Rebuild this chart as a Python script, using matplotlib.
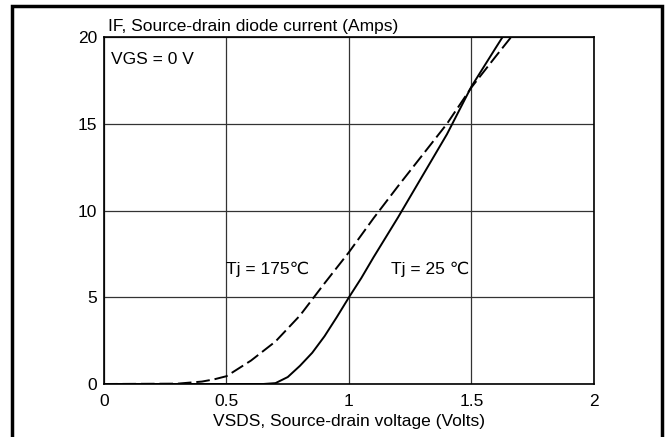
import matplotlib.pyplot as plt
from matplotlib.patches import Rectangle

plt.rcParams["font.family"] = ["Liberation Sans", "DejaVu Sans"]

# Tj = 25 C (solid)
v_25 = [0.0, 0.65, 0.70, 0.75, 0.80, 0.85, 0.90, 0.95, 1.0, 1.05, 1.1, 1.2, 1.3, 1.4, 1.5, 1.6, 1.627]
i_25 = [0.0, 0.0, 0.05, 0.4, 1.05, 1.8, 2.75, 3.85, 5.0, 6.1, 7.3, 9.6, 12.0, 14.4, 17.15, 19.4, 20.0]

# Tj = 175 C (dashed)
v_175 = [0.0, 0.30, 0.40, 0.45, 0.50, 0.60, 0.70, 0.80, 0.90, 1.0, 1.1, 1.2, 1.3, 1.4, 1.5, 1.6, 1.662]
i_175 = [0.0, 0.02, 0.14, 0.27, 0.45, 1.35, 2.45, 3.95, 5.8, 7.6, 9.55, 11.4, 13.2, 15.0, 17.1, 18.9, 20.0]

x_ticks = [0, 0.5, 1, 1.5, 2]
x_tick_labels = ["0", "0.5", "1", "1.5", "2"]
y_ticks = [0, 5, 10, 15, 20]

fs = 12.5

fig = plt.figure(figsize=(6.65, 4.37), dpi=100)
ax = fig.add_axes([0.1564, 0.1213, 0.7368, 0.794])

ax.plot(v_25, i_25, color="black", lw=1.4)
ax.plot(v_175, i_175, color="black", lw=1.4, linestyle=(0, (7, 2.5)))

ax.set_xlim(0, 2)
ax.set_ylim(0, 20)
ax.set_xticks(x_ticks)
ax.set_xticklabels(x_tick_labels)
ax.set_yticks(y_ticks)
ax.tick_params(length=0, labelsize=fs, pad=5)
ax.tick_params(axis="x", pad=7)
ax.grid(True, color="#333333", lw=0.9)
for s in ax.spines.values():
    s.set_linewidth(1.2)

ax.set_xlabel("VSDS, Source-drain voltage (Volts)", fontsize=fs, labelpad=4)
ax.text(0.008, 1.008, "IF, Source-drain diode current (Amps)", transform=ax.transAxes,
        fontsize=fs, ha="left", va="bottom")
ax.text(0.03, 18.7, "VGS = 0 V", fontsize=fs, ha="left", va="center")
ax.text(0.5, 6.6, "Tj = 175\u2103", fontsize=fs, ha="left", va="center")
ax.text(1.17, 6.6, "Tj = 25 \u2103", fontsize=fs, ha="left", va="center")

# outer frame around the figure
fig.patches.append(Rectangle((12 / 665, -0.1), 650 / 665, 1.1 - 6 / 437,
                             transform=fig.transFigure, fill=False,
                             edgecolor="black", lw=2.5, clip_on=False))

fig.savefig("out.png", dpi=100)
